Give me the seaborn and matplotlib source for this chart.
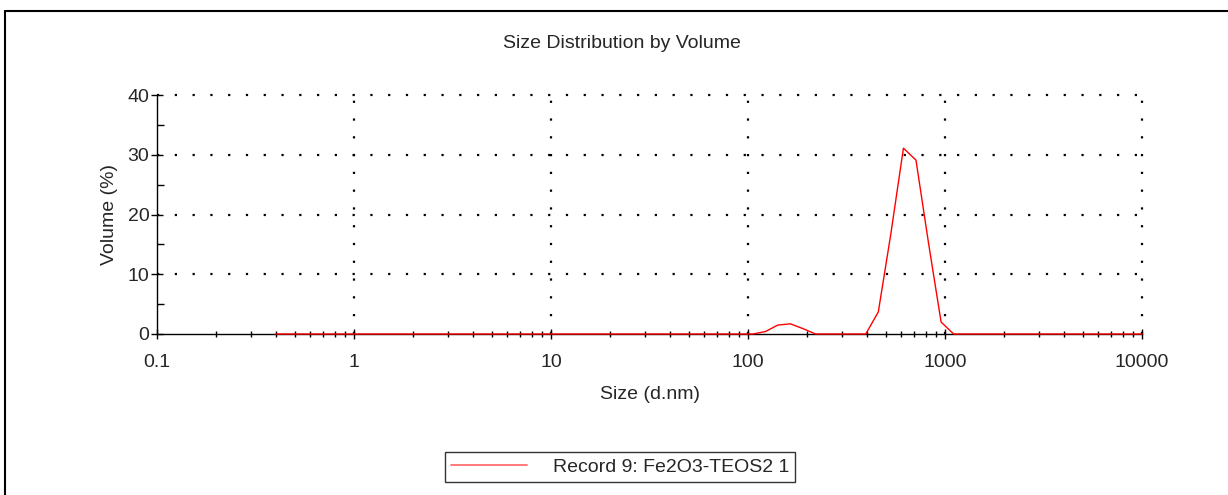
import numpy as np
import pandas as pd
import matplotlib
matplotlib.use("Agg")
import matplotlib.pyplot as plt
from matplotlib.lines import Line2D
from matplotlib.ticker import FixedLocator, NullFormatter
import seaborn as sns

# Size classes (d.nm) - 70 log-spaced bins from 0.4 to 10000 nm
size_nm = [
    0.4, 0.4632, 0.5365, 0.6213, 0.7195, 0.8332, 0.9649, 1.117, 1.294, 1.499,
    1.736, 2.010, 2.328, 2.696, 3.122, 3.615, 4.187, 4.849, 5.615, 6.503,
    7.531, 8.721, 10.10, 11.70, 13.54, 15.69, 18.17, 21.04, 24.36, 28.21,
    32.67, 37.84, 43.82, 50.75, 58.77, 68.06, 78.82, 91.28, 105.7, 122.4,
    141.8, 164.2, 190.1, 220.2, 255.0, 295.3, 342.0, 396.1, 458.7, 531.2,
    615.1, 712.4, 825.0, 955.4, 1106, 1281, 1484, 1718, 1990, 2305,
    2669, 3091, 3580, 4145, 4801, 5560, 6439, 7456, 8635, 10000,
]

# Volume distribution (%) per size class
volume_pct = [
    0, 0, 0, 0, 0, 0, 0, 0, 0, 0,
    0, 0, 0, 0, 0, 0, 0, 0, 0, 0,
    0, 0, 0, 0, 0, 0, 0, 0, 0, 0,
    0, 0, 0, 0, 0, 0, 0, 0, 0, 0.4,
    1.5, 1.7, 0.9, 0, 0, 0, 0, 0, 3.7, 16.8,
    31.1, 29.1, 15.2, 2.0, 0, 0, 0, 0, 0, 0,
    0, 0, 0, 0, 0, 0, 0, 0, 0, 0,
]

record_label = "Record 9: Fe2O3-TEOS2 1"
title_text = "Size Distribution by Volume"
x_label = "Size (d.nm)"
y_label = "Volume (%)"
x_ticks = [0.1, 1, 10, 100, 1000, 10000]
x_tick_labels = ["0.1", "1", "10", "100", "1000", "10000"]
y_ticks = [0, 10, 20, 30, 40]
y_minor_ticks = [5, 15, 25, 35]

sns.set_style("white")
plt.rcParams["font.family"] = ["Liberation Sans", "DejaVu Sans"]

df = pd.DataFrame({"size": size_nm, "volume": volume_pct, "record": record_label})

fig = plt.figure(figsize=(12.28, 4.95), dpi=100)
ax = fig.add_axes([157 / 1228, 1 - 334 / 495, (1142 - 157) / 1228, (334 - 95) / 495])

sns.lineplot(data=df, x="size", y="volume", ax=ax, color="#ff0000",
             linewidth=1.0, legend=False, zorder=4)
for ln in ax.get_lines():
    ln.set_clip_on(False)

ax.set_xscale("log")
ax.set_xlim(0.1, 10000)
ax.set_ylim(0, 40)

# minor ticks at 2..9 within every decade
minor_x = [m * 10.0 ** e for e in range(-1, 4) for m in range(2, 10)]
ax.xaxis.set_major_locator(FixedLocator(x_ticks))
ax.xaxis.set_minor_locator(FixedLocator(minor_x))
ax.set_xticklabels(x_tick_labels)
ax.xaxis.set_minor_formatter(NullFormatter())
ax.set_yticks(y_ticks)
ax.yaxis.set_minor_locator(FixedLocator(y_minor_ticks))

ax.tick_params(axis="x", which="both", bottom=True, top=False)
ax.tick_params(axis="y", which="both", left=True, right=False)
ax.tick_params(axis="x", which="major", direction="inout", length=7, width=1,
               color="black", labelsize=14, pad=11)
ax.tick_params(axis="x", which="minor", direction="inout", length=5, width=1,
               color="black")
ax.tick_params(axis="y", which="major", direction="inout", length=9, width=1,
               color="black", labelsize=14, pad=1)
ax.tick_params(axis="y", which="minor", direction="in", length=5, width=1,
               color="black")

for side in ("top", "right"):
    ax.spines[side].set_visible(False)
for side in ("left", "bottom"):
    ax.spines[side].set_color("black")
    ax.spines[side].set_linewidth(1.0)

# Dotted grid, including the closing lines at the top and right
dot = (0, (1, 7))
for yv in [10, 20, 30, 40]:
    ax.axhline(yv, color="black", linewidth=1.6, linestyle=dot, zorder=1,
               clip_on=False)
for xv in [1, 10, 100, 1000, 10000]:
    ax.axvline(xv, color="black", linewidth=1.6, linestyle=dot, zorder=1,
               clip_on=False)

ax.set_xlabel(x_label, fontsize=14, labelpad=11)
ax.set_ylabel(y_label, fontsize=14, labelpad=7)

fig.text(622 / 1228, 1 - 43 / 495, title_text, ha="center", va="center", fontsize=14)

# Legend below the axes
handle = Line2D([], [], color="#ff7070", linewidth=1.3)
leg = fig.legend([handle], [record_label], loc="center",
                 bbox_to_anchor=(620 / 1228, 1 - 467 / 495), frameon=True,
                 fontsize=14, handlelength=3.9, handletextpad=1.35,
                 borderpad=0.3, borderaxespad=0, fancybox=False)
leg.get_frame().set_edgecolor("black")
leg.get_frame().set_linewidth(1.0)

# Outer frame along the left and top of the figure
fig.add_artist(Line2D([5 / 1228, 5 / 1228], [0, 1 - 11 / 495],
                      transform=fig.transFigure, color="black", linewidth=1.5))
fig.add_artist(Line2D([5 / 1228, 1], [1 - 11 / 495, 1 - 11 / 495],
                      transform=fig.transFigure, color="black", linewidth=1.5))

fig.savefig("out.png", dpi=100)
